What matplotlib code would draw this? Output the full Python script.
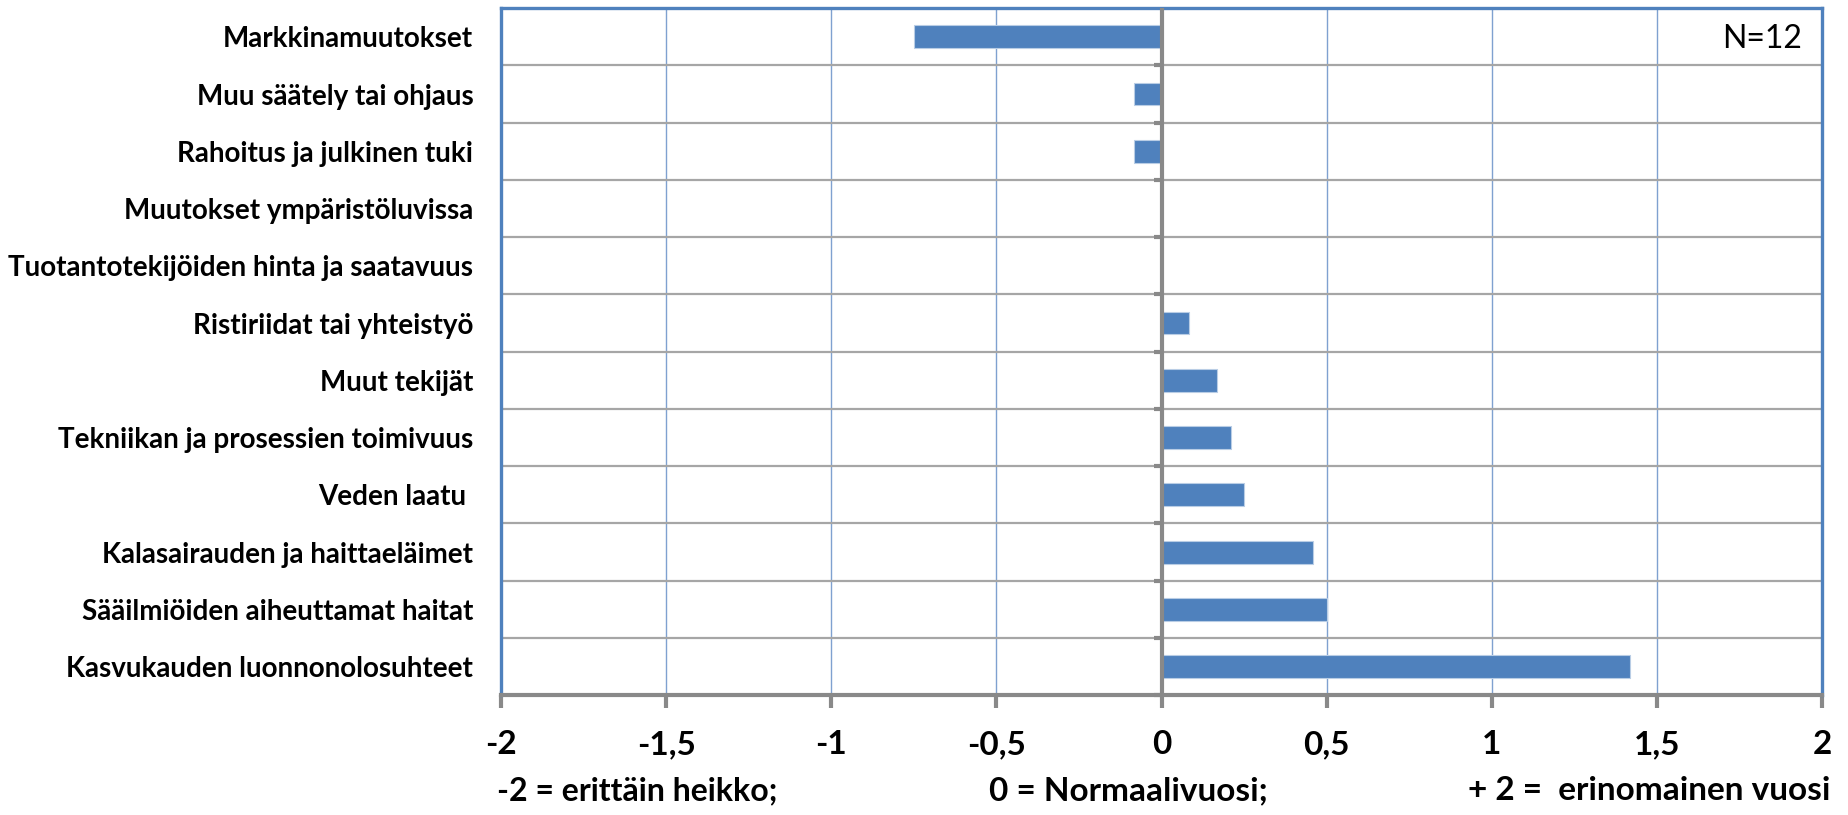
import numpy as np
import matplotlib
matplotlib.use("Agg")
import matplotlib.pyplot as plt
from matplotlib.ticker import FixedLocator, FuncFormatter

plt.rcParams['font.family'] = ['Lato', 'DejaVu Sans']

categories = [
    "Markkinamuutokset",
    "Muu säätely tai ohjaus",
    "Rahoitus ja julkinen tuki",
    "Muutokset ympäristöluvissa",
    "Tuotantotekijöiden hinta ja saatavuus",
    "Ristiriidat tai yhteistyö",
    "Muut tekijät",
    "Tekniikan ja prosessien toimivuus",
    "Veden laatu ",
    "Kalasairauden ja haittaeläimet",
    "Sääilmiöiden aiheuttamat haitat",
    "Kasvukauden luonnonolosuhteet",
]
values = [-0.75, -0.083, -0.083, 0.0, 0.0, 0.083, 0.167, 0.21, 0.25, 0.46, 0.5, 1.42]
x_ticks = [-2, -1.5, -1, -0.5, 0, 0.5, 1, 1.5, 2]
n_label = "N=12"
scale_texts = ["-2 = erittäin heikko;", "0 = Normaalivuosi;", "+ 2 =  erinomainen vuosi"]

BLUE = "#4F81BD"
GRAY = "#898989"

fig = plt.figure(figsize=(18.49, 8.15), dpi=100)
ax = fig.add_axes([0.271, 0.147, 0.9854 - 0.271, 0.990 - 0.147])

y = np.arange(len(categories))
ax.barh(y, values, height=0.4, color=BLUE, edgecolor="#B9CDE5", linewidth=0.8, zorder=3)

ax.set_xlim(-2, 2)
ax.set_ylim(len(categories) - 0.5, -0.5)

# x axis
ax.set_xticks(x_ticks)
ax.xaxis.set_major_formatter(FuncFormatter(lambda v, p: f"{v:g}".replace(".", ",")))
ax.tick_params(axis="x", direction="out", length=9, width=3, color=GRAY, pad=16,
               labelsize=24)
for lab in ax.get_xticklabels():
    lab.set_fontweight("bold")
ax.grid(axis="x", which="major", color="#7FA1D0", linewidth=1.0, zorder=1)

# y axis: labels only, gridlines at category boundaries
ax.set_yticks(y)
ax.set_yticklabels(categories, fontsize=20, fontweight="bold")
ax.tick_params(axis="y", which="major", length=0, pad=20)
bounds = np.arange(len(categories) + 1) - 0.5
ax.yaxis.set_minor_locator(FixedLocator(bounds[1:-1]))
ax.tick_params(axis="y", which="minor", length=0)
ax.grid(axis="y", which="minor", color="#A6A6A6", linewidth=1.6, zorder=1)

# zero axis with its tick marks
ax.axvline(0, color=GRAY, linewidth=3, zorder=4)
ax.plot(np.zeros(len(bounds) - 1), bounds[1:], ls="none", marker=0, markersize=6,
        mew=3, color=GRAY, zorder=4, clip_on=False)

for side in ["left", "top", "right"]:
    ax.spines[side].set_color(BLUE)
    ax.spines[side].set_linewidth(2.4)
ax.spines["bottom"].set_color(GRAY)
ax.spines["bottom"].set_linewidth(3)
ax.spines["bottom"].set_zorder(5)

ax.text(0.985, 0.955, n_label, transform=ax.transAxes, ha="right", va="center",
        fontsize=23)

fig.text(0.269, 0.012, scale_texts[0], ha="left", va="bottom", fontsize=23, fontweight="bold")
fig.text(0.535, 0.012, scale_texts[1], ha="left", va="bottom", fontsize=24, fontweight="bold")
fig.text(0.990, 0.012, scale_texts[2], ha="right", va="bottom", fontsize=24, fontweight="bold")

fig.savefig("out.png", dpi=100)
